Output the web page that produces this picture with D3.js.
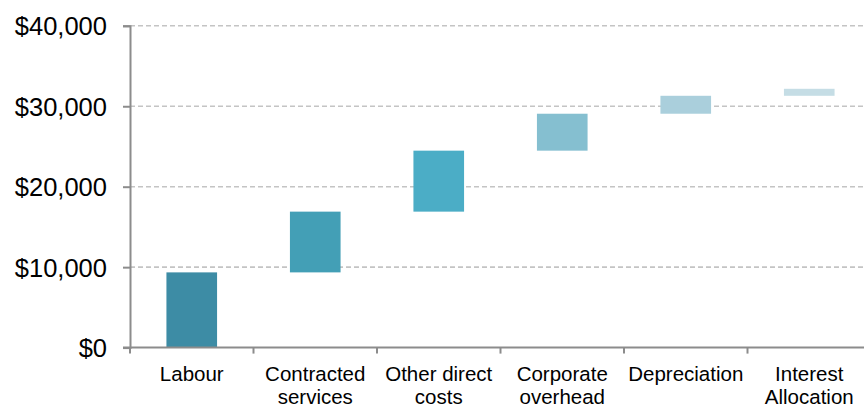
<!DOCTYPE html>
<html>
<head>
<meta charset="utf-8">
<script src="https://cdn.jsdelivr.net/npm/d3@7"></script>
<style>
  html, body { margin: 0; padding: 0; background: #fff; }
  svg { display: block; font-family: "Liberation Sans", Arial, sans-serif; }
</style>
</head>
<body>
<div id="chart"></div>
<script>
// waterfall chart data, cost build-up
var categories = ["Labour", "Contracted services", "Other direct costs", "Corporate overhead", "Depreciation", "Interest Allocation"];
var tickLines = [["Labour"], ["Contracted", "services"], ["Other direct", "costs"], ["Corporate", "overhead"], ["Depreciation"], ["Interest", "Allocation"]];
var amounts = [9350, 7550, 7580, 4590, 2230, 870];
var yTicks = [0, 10000, 20000, 30000, 40000];

var width = 864, height = 410;
var margin = {top: 26, right: -7, bottom: 62, left: 130};

var ends = Array.from(d3.cumsum(amounts));
var data = categories.map(function(c, i) {
  return {name: c, start: ends[i] - amounts[i], end: ends[i], lines: tickLines[i]};
});

var svg = d3.select("#chart").append("svg")
  .attr("width", width)
  .attr("height", height);

var x = d3.scaleBand()
  .domain(categories)
  .range([margin.left, width - margin.right])
  .paddingInner(0.59)
  .paddingOuter(0.295);

var y = d3.scaleLinear()
  .domain([0, 40000])
  .range([height - margin.bottom - 0.4, margin.top - 0.2]);

var color = d3.scaleOrdinal()
  .domain(categories)
  .range(["#3d8ca5", "#439fb6", "#4badc6", "#85bfd0", "#aacfdc", "#c5dde5"]);

// dashed gridlines
svg.append("g")
  .selectAll("line")
  .data(yTicks.filter(function(d) { return d > 0; }))
  .enter()
  .append("line")
  .attr("x1", margin.left)
  .attr("x2", width)
  .attr("y1", function(d) { return y(d); })
  .attr("y2", function(d) { return y(d); })
  .attr("stroke", "#c4c4c4")
  .attr("stroke-width", 1.6)
  .attr("stroke-dasharray", "5,3");

// bars
svg.append("g")
  .selectAll("rect")
  .data(data)
  .enter()
  .append("rect")
  .attr("x", function(d) { return x(d.name); })
  .attr("width", x.bandwidth())
  .attr("y", function(d) { return y(d.end); })
  .attr("height", function(d) { return y(d.start) - y(d.end); })
  .attr("fill", function(d) { return color(d.name); });

// y axis
var yAxis = svg.append("g")
  .attr("transform", "translate(" + margin.left + ",0)")
  .call(d3.axisLeft(y).tickValues(yTicks).tickSize(7).tickPadding(16)
    .tickFormat(function(d) { return "$" + d3.format(",")(d); }));
yAxis.select(".domain").attr("stroke", "#8c8c8c").attr("stroke-width", 2);
yAxis.selectAll(".tick line").attr("stroke", "#8c8c8c").attr("stroke-width", 2);
yAxis.selectAll(".tick text")
  .attr("fill", "#000")
  .style("font-size", "25.5px")
  .attr("dy", "0.36em");

// x axis with boundary ticks
var x0 = y(0);
svg.append("line")
  .attr("x1", margin.left - 7)
  .attr("x2", width)
  .attr("y1", x0)
  .attr("y2", x0)
  .attr("stroke", "#8c8c8c")
  .attr("stroke-width", 2);

var step = x.step();
svg.append("g")
  .selectAll("line")
  .data(d3.range(categories.length + 1))
  .enter()
  .append("line")
  .attr("x1", function(i) { return margin.left + i * step; })
  .attr("x2", function(i) { return margin.left + i * step; })
  .attr("y1", x0)
  .attr("y2", x0 + 6)
  .attr("stroke", "#8c8c8c")
  .attr("stroke-width", 2);

// category labels
var labels = svg.append("g")
  .selectAll("text")
  .data(data)
  .enter()
  .append("text")
  .attr("text-anchor", "middle")
  .attr("fill", "#000")
  .style("font-size", "20.5px")
  .attr("x", function(d) { return x(d.name) + x.bandwidth() / 2; })
  .attr("y", 381);

labels.selectAll("tspan")
  .data(function(d) { return d.lines.map(function(l) { return {text: l, x: x(d.name) + x.bandwidth() / 2}; }); })
  .enter()
  .append("tspan")
  .attr("x", function(t) { return t.x; })
  .attr("dy", function(t, i) { return i === 0 ? 0 : 22.5; })
  .text(function(t) { return t.text; });
</script>
</body>
</html>
